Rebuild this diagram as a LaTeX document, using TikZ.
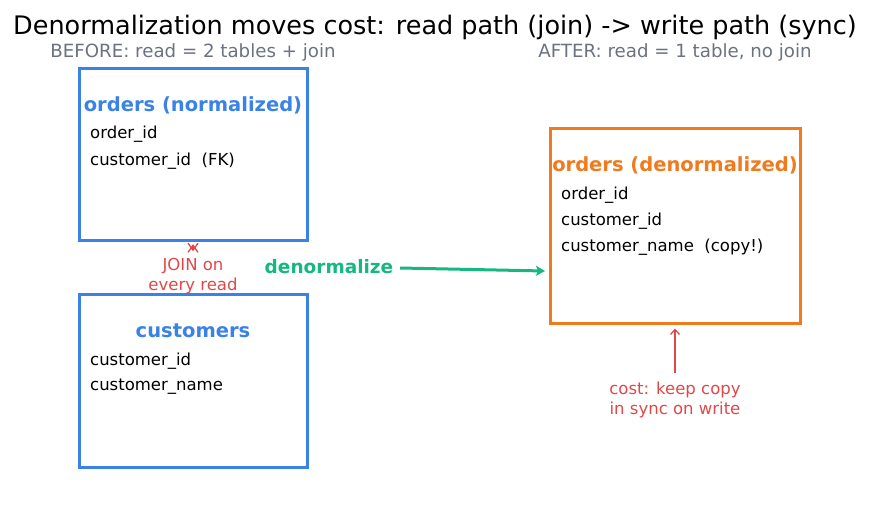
\documentclass[tikz,border=0pt]{standalone}
\usepackage{fontspec}
\setmainfont{DejaVu Sans}
\usetikzlibrary{positioning, arrows.meta}

\definecolor{tblblue}{HTML}{3B82E6}
\definecolor{tblorange}{HTML}{F07A1E}
\definecolor{dngreen}{HTML}{14B880}
\definecolor{costred}{HTML}{E04848}
\definecolor{subgray}{HTML}{6B7280}

\begin{document}
\begin{tikzpicture}[x=1pt, y=-1pt,
    tablebox/.style={draw, line width=3pt, rectangle, inner sep=0pt},
    tabletitle/.style={font=\fontsize{19.5}{22}\selectfont\bfseries, inner sep=0pt},
    field/.style={font=\fontsize{16.5}{19}\selectfont, anchor=west, inner sep=0pt},
    note/.style={font=\fontsize{16.5}{20.5}\selectfont, text=costred, align=center, inner sep=0pt}]
    \useasboundingbox (0,0) rectangle (871,512);

    % Titles
    \node[font=\fontsize{25.5}{28}\selectfont] (title) at (435,27) {Denormalization moves cost: read path (join) -> write path (sync)};
    \node[font=\fontsize{18.2}{21}\selectfont, text=subgray] (before) at (193,52) {BEFORE: read = 2 tables + join};
    \node[font=\fontsize{18.2}{21}\selectfont, text=subgray] (after) at (675,52) {AFTER: read = 1 table, no join};

    % Define tables (normalized)
    \node[tablebox, draw=tblblue, minimum width=228pt, minimum height=172pt] (orders) at (193,154) {};
    \node[tablebox, draw=tblblue, minimum width=228pt, minimum height=173pt] (customers) at (193,380.5) {};
    \node[tabletitle, text=tblblue] (ordersT) at (193,105) {orders (normalized)};
    \node[field] (o1) at (90,134) {order\_id};
    \node[field] (o2) at (90,161) {customer\_id\ \ (FK)};
    \node[tabletitle, text=tblblue] (customersT) at (193,331) {customers};
    \node[field] (c1) at (90,361) {customer\_id};
    \node[field] (c2) at (90,387) {customer\_name};

    % Define table (denormalized)
    \node[tablebox, draw=tblorange, minimum width=250pt, minimum height=195pt] (denorm) at (675,225.5) {};
    \node[tabletitle, text=tblorange] (denormT) at (675,165) {orders (denormalized)};
    \node[field] (d1) at (561,195) {order\_id};
    \node[field] (d2) at (561,221) {customer\_id};
    \node[field] (d3) at (561,247) {customer\_name\ \ (copy!)};

    % Join between the two tables
    \node[note] (join) at (193,276) {JOIN on\\every read};
    \coordinate (joinend) at (193,253);
    \draw[costred, line width=1.3pt, {Straight Barb[reversed,length=7pt,width=10pt]}-{Straight Barb[reversed,length=7pt,width=10pt]}] ([yshift=-1pt]orders.south) -- (joinend);

    % Draw denormalize step
    \node[font=\fontsize{18.5}{21}\selectfont\bfseries, text=dngreen, inner sep=0pt] (dnlabel) at (329,267) {denormalize};
    \coordinate (dnstart) at (400,268);
    \coordinate (dnend) at (545,271);
    \draw[dngreen, line width=3pt, -{Stealth[length=9pt,width=10pt,inset=2pt]}] (dnstart) -- (dnend);

    % Cost note
    \node[note] (cost) at (675,400) {cost: keep copy\\in sync on write};
    \coordinate (coststart) at (675,373);
    \draw[costred, line width=1.3pt, -{Straight Barb[length=5pt,width=9pt]}] (coststart) -- ([yshift=-4pt]denorm.south);
\end{tikzpicture}
\end{document}
